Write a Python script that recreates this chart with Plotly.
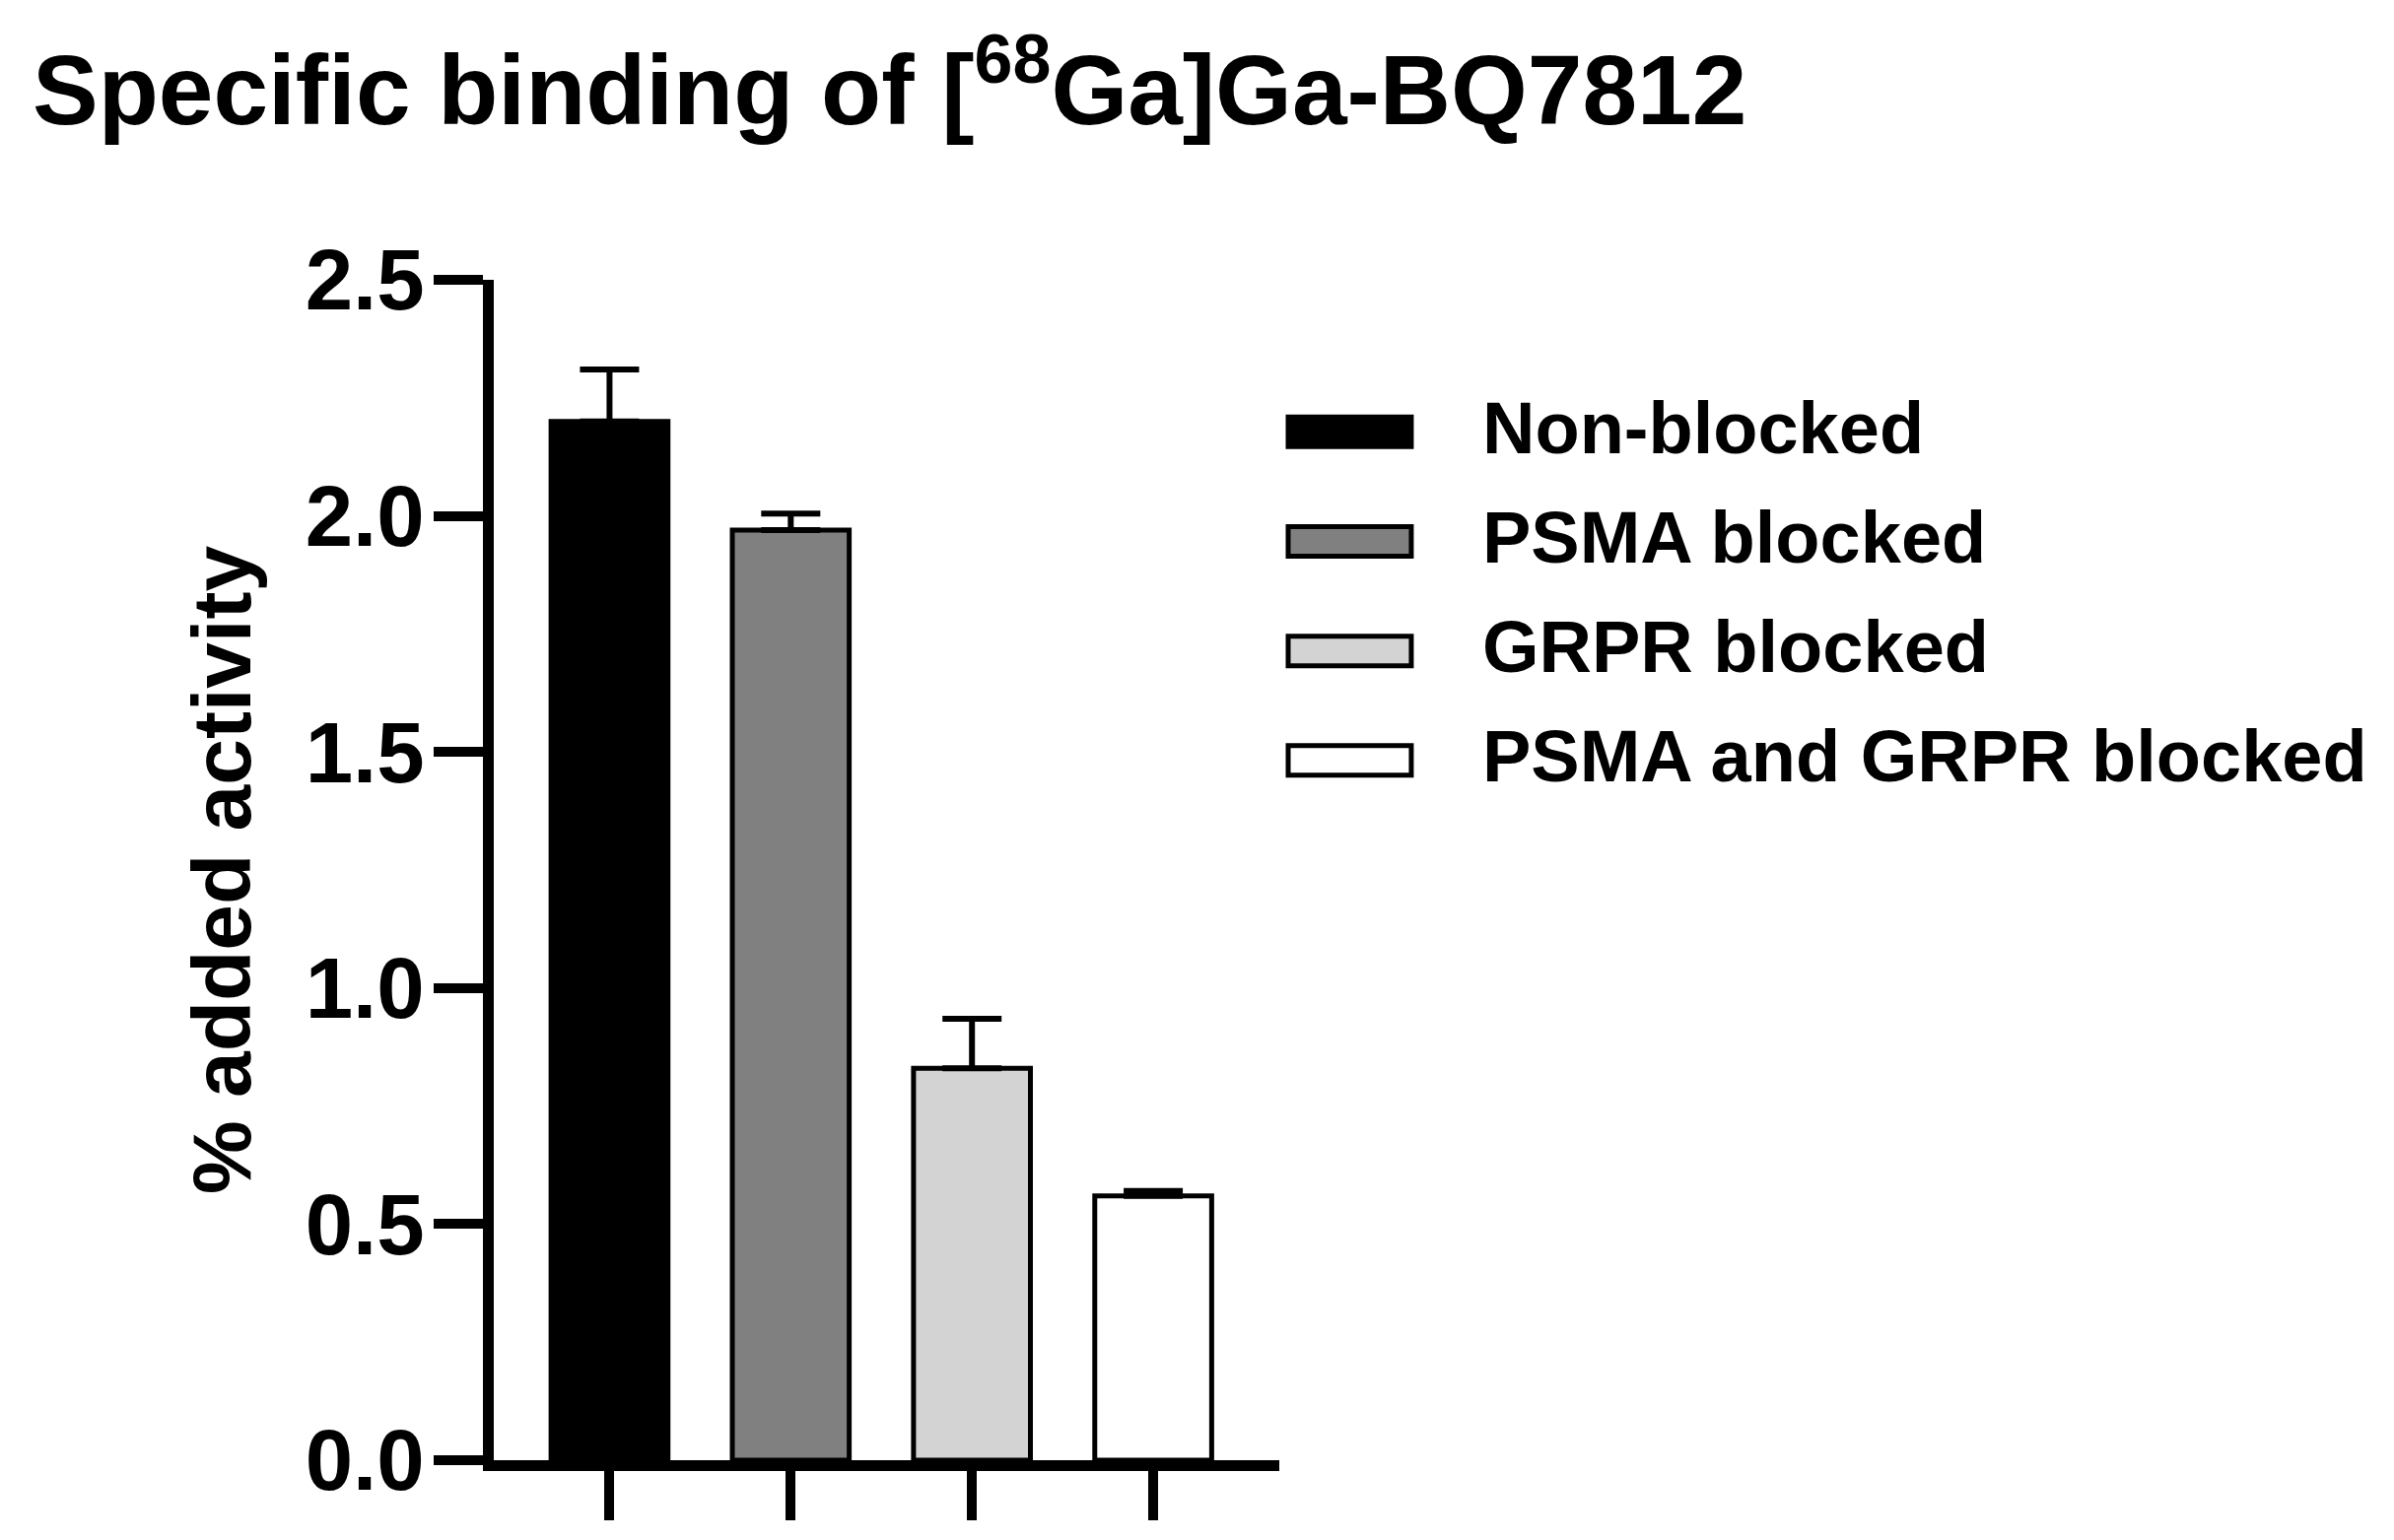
import plotly.graph_objects as go

# datos
groups = ['Non-blocked', 'PSMA blocked', 'GRPR blocked', 'PSMA and GRPR blocked']
mean_activity = [2.20, 1.97, 0.83, 0.56]
sem_activity = [0.11, 0.035, 0.105, 0.01]
bar_colors = ['#000000', '#808080', '#d3d3d3', '#ffffff']
y_ticks = [0.0, 0.5, 1.0, 1.5, 2.0, 2.5]

FONT = 'Liberation Sans, Arial, sans-serif'
# la pagina tiene 8px de margen en el body
W, H = 2421, 1555
PL, PR, PT, PB = 492.5, 1290, 276.3, 1474   # area del grafico (px de la figura)

def px_x(v):
    return (v - PL) / (PR - PL)

def px_y(v):
    return (PB - v) / (PB - PT)

fig = go.Figure()
fig.add_trace(go.Bar(
    x=groups,
    y=mean_activity,
    width=0.645,
    marker=dict(color=bar_colors, line=dict(color='black', width=5)),
    error_y=dict(type='data', array=sem_activity, arrayminus=[0] * len(groups),
                 symmetric=False, color='black', thickness=6, width=30),
    showlegend=False,
))

# leyenda dibujada a mano (rectangulos anchos como en Prism)
leg_y = [430.5, 541.7, 653, 764]
for name, col, yy in zip(groups, bar_colors, leg_y):
    fig.add_shape(type='rect', xref='paper', yref='paper',
                  x0=px_x(1299), x1=px_x(1424),
                  y0=px_y(yy + 15), y1=px_y(yy - 15),
                  fillcolor=col, line=dict(color='black', width=5))
    fig.add_annotation(text=f'<b>{name}</b>', xref='paper', yref='paper',
                       x=px_x(1494), y=px_y(yy - 4),
                       xanchor='left', yanchor='middle', showarrow=False,
                       font=dict(family=FONT, size=74, color='black'))

fig.update_layout(
    width=W, height=H,
    margin=dict(l=PL, r=W - PR, t=PT, b=H - PB),
    paper_bgcolor='white', plot_bgcolor='white',
    font=dict(family=FONT, color='black'),
    title=dict(text='<b>Specific binding of [<sup>68</sup>Ga]Ga-BQ7812</b>',
               x=25 / W, xanchor='left', xref='container',
               y=1 - 83 / H, yanchor='middle', yref='container',
               font=dict(family=FONT, size=100, color='black')),
    xaxis=dict(range=[(PL - 610) / 184, (PR - 610) / 184], showticklabels=False,
               ticks='outside', ticklen=50, tickwidth=10, tickcolor='black',
               showline=True, linewidth=11, linecolor='black',
               showgrid=False, zeroline=False),
    yaxis=dict(range=[0, 2.5], tickvals=y_ticks, tickformat='.1f',
               ticks='outside', ticklen=50, tickwidth=10, tickcolor='black',
               showline=True, linewidth=11, linecolor='black',
               showgrid=False, zeroline=False, ticklabelstandoff=-8,
               tickfont=dict(family=FONT, size=87, color='black', weight='bold'),
               title=dict(text='<b>% added activity</b>', standoff=32,
                          font=dict(family=FONT, size=84, color='black'))),
)

fig.write_html("out.html")
